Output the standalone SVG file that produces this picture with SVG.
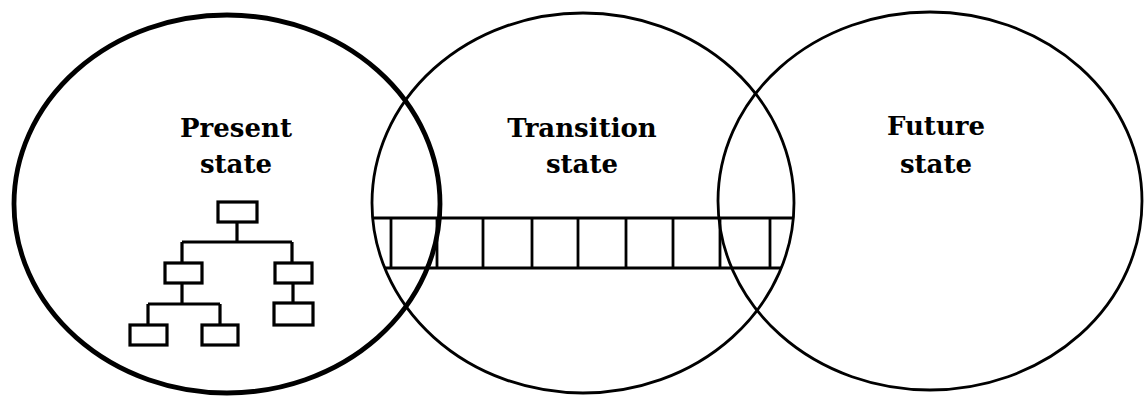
<svg xmlns="http://www.w3.org/2000/svg" width="1144" height="396" viewBox="0 0 1144 396">
<style>
.lbl{font-family:"DejaVu Serif","Liberation Serif",serif;font-weight:bold;font-size:26px;fill:#000;text-anchor:middle}
.ring{fill:none;stroke:#000}
.box{fill:#fff;stroke:#000;stroke-width:3.2}
.ln{fill:none;stroke:#000;stroke-width:3.2}
.strip{fill:none;stroke:#000;stroke-width:2.8}
</style>
<defs>
<clipPath id="midclip"><ellipse cx="583" cy="203" rx="211" ry="190"/></clipPath>
</defs>
<rect width="1144" height="396" fill="#fff"/>
<g id="present">
<ellipse class="ring" cx="227" cy="204" rx="213" ry="189" stroke-width="4.8"/>
<text class="lbl" x="236" y="137">Present</text>
<text class="lbl" x="236" y="173">state</text>
<g id="org-chart">
<path class="ln" d="M237 222V242M182 242H292M182 242V263M292 242V263M182 283V304M148 304H220M148 304V325M220 304V325M293 283V303"/>
<rect class="box" x="218" y="202" width="39" height="20"/>
<rect class="box" x="165" y="263" width="37" height="20"/>
<rect class="box" x="275" y="263" width="37" height="20"/>
<rect class="box" x="130" y="325" width="37" height="20"/>
<rect class="box" x="202" y="325" width="36" height="20"/>
<rect class="box" x="274" y="303" width="39" height="22"/>
</g>
</g>
<g id="transition">
<ellipse class="ring" cx="583" cy="203" rx="211" ry="190" stroke-width="2.8"/>
<text class="lbl" x="582" y="137">Transition</text>
<text class="lbl" x="582" y="173">state</text>
</g>
<g id="future">
<ellipse class="ring" cx="930" cy="201" rx="212" ry="189" stroke-width="2.8"/>
<text class="lbl" x="936" y="135">Future</text>
<text class="lbl" x="936" y="173">state</text>
</g>
<g id="connectors" clip-path="url(#midclip)">
<path class="strip" d="M360 218H800M360 268H800M391 218V268M437 218V268M483 218V268M532 218V268M578 218V268M626 218V268M673 218V268M720 218V268M770 218V268"/>
</g>
</svg>
